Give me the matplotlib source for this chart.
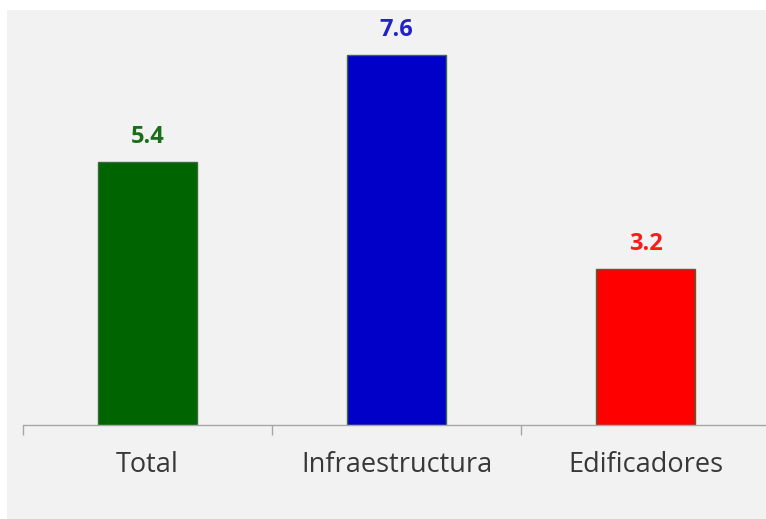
import matplotlib.pyplot as plt
from matplotlib.patches import Rectangle

categorias = ['Total', 'Infraestructura', 'Edificadores']
valores = [5.4, 7.6, 3.2]
colores = ['#006400', '#0000c8', '#ff0000']
colores_texto = ['#1a6e1a', '#2222cc', '#ff1a1a']

plt.rcParams['font.family'] = ['Open Sans', 'DejaVu Sans']

fig = plt.figure(figsize=(7.66, 5.19), dpi=100)
fig.patch.set_facecolor('white')
# fondo gris del grafico
fig.patches.append(Rectangle((7 / 766, 0), 1, 1 - 10 / 519, transform=fig.transFigure,
                             facecolor='#f2f2f2', edgecolor='none', zorder=-10))

ax = fig.add_axes([23 / 766, 94 / 519, 747 / 766, 8.0 * 48.7 / 519])
ax.set_facecolor('none')
ax.set_zorder(1)

x = range(len(categorias))
barras = ax.bar(x, valores, width=0.4, color=colores, edgecolor='#3d6b3d', linewidth=1)

for xi, v, c in zip(x, valores, colores_texto):
    ax.annotate(f'{v:.1f}', (xi, v), xytext=(0, 18), textcoords='offset points',
                ha='center', va='center', fontsize=17, fontweight='bold', color=c,
                annotation_clip=False)

ax.set_xlim(-0.5, 2.5)
ax.set_ylim(0, 8)
ax.set_yticks([])
ax.set_xticks(list(x))
ax.set_xticklabels(categorias, fontsize=19.5, color='#383838')
ax.set_xticks([-0.5, 0.5, 1.5, 2.5], minor=True)
ax.tick_params(axis='x', which='major', length=0, pad=19)
ax.tick_params(axis='x', which='minor', length=7, color='#a6a6a6', width=1)

for lado in ['top', 'right', 'left']:
    ax.spines[lado].set_visible(False)
ax.spines['bottom'].set_color('#a6a6a6')
ax.spines['bottom'].set_linewidth(1)

fig.savefig('out.png', dpi=100)
